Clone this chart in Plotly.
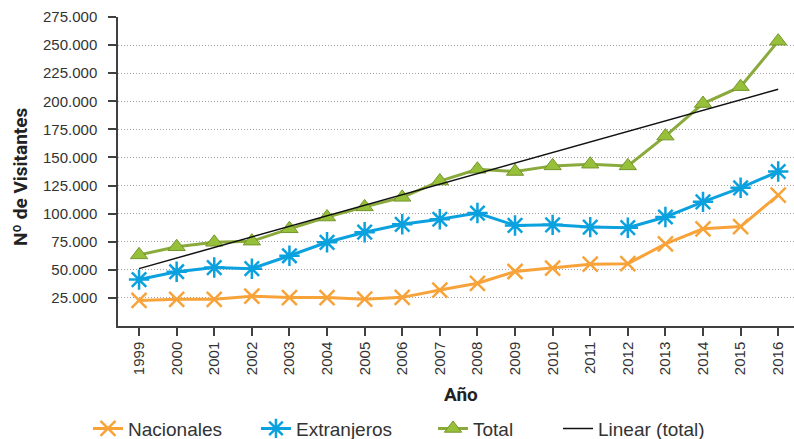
import numpy as np
import plotly.graph_objects as go

# Visitors per year
years = ["1999", "2000", "2001", "2002", "2003", "2004", "2005", "2006", "2007",
         "2008", "2009", "2010", "2011", "2012", "2013", "2014", "2015", "2016"]
nacionales = [22800, 23700, 23800, 26500, 25300, 25300, 23900, 25500, 32000,
              38000, 48500, 51500, 55000, 55500, 73000, 86500, 88500, 116500]
extranjeros = [41300, 48300, 52000, 51000, 62500, 74500, 83500, 90500, 95000,
               100500, 89500, 90000, 88000, 87500, 97000, 110500, 123000, 137500]
total = [63300, 70500, 74500, 75500, 86500, 97000, 106000, 114500, 129000,
         139500, 137500, 142500, 144000, 142500, 169000, 198000, 213000, 253500]
y_ticks = [25000, 50000, 75000, 100000, 125000, 150000, 175000, 200000,
           225000, 250000, 275000]

# least-squares linear trend of the total series
idx = np.arange(len(years))
slope, intercept = np.polyfit(idx, total, 1)
trend = (slope * idx + intercept).tolist()

ORANGE = "#F7A33A"
BLUE = "#0BA1DE"
GREEN_LINE = "#8AAA3C"
GREEN_FILL = "#96BF3A"
GREEN_EDGE = "#76962C"
AXIS = "#404040"
FONT = "Liberation Sans"
TITLE_FONT = "Roboto"

fig = go.Figure()
fig.add_trace(go.Scatter(
    x=years, y=nacionales, name="Nacionales", mode="lines+markers",
    line=dict(color=ORANGE, width=3),
    marker=dict(symbol="x-thin-open", size=15, color=ORANGE,
                line=dict(color=ORANGE, width=2.5)),
    legend="legend"))
fig.add_trace(go.Scatter(
    x=years, y=extranjeros, name="Extranjeros", mode="lines+markers",
    line=dict(color=BLUE, width=3),
    marker=dict(symbol="asterisk-open", size=17, color=BLUE,
                line=dict(color=BLUE, width=2.5)),
    legend="legend2"))
fig.add_trace(go.Scatter(
    x=years, y=total, name="Total", mode="lines+markers",
    line=dict(color=GREEN_LINE, width=3),
    marker=dict(symbol="triangle-up", size=15, color=GREEN_FILL,
                line=dict(color=GREEN_EDGE, width=1)),
    legend="legend3"))
fig.add_trace(go.Scatter(
    x=years, y=trend, name="Linear (total)", mode="lines",
    line=dict(color="#111111", width=1.5),
    legend="legend4"))

leg_common = dict(orientation="h", y=-0.332, yanchor="middle", xanchor="left",
                  bgcolor="rgba(0,0,0,0)", borderwidth=0,
                  font=dict(family=FONT, size=19, color="#333333"))

fig.update_layout(
    width=794, height=439,
    margin=dict(l=118, r=0, t=17, b=113, autoexpand=False),
    plot_bgcolor="white", paper_bgcolor="white",
    separators=",.",
    showlegend=True,
    legend=dict(x=-0.0444, **leg_common),
    legend2=dict(x=0.2041, **leg_common),
    legend3=dict(x=0.4660, **leg_common),
    legend4=dict(x=0.6509, **leg_common),
    xaxis=dict(
        type="category", range=[-0.56, 17.42],
        showline=True, linecolor=AXIS, linewidth=1.5,
        ticks="outside", ticklen=8, tickcolor=AXIS, tickwidth=1.5,
        tickangle=-90, showgrid=False, zeroline=False,
        tickfont=dict(family=FONT, size=15, color="#333333"),
    ),
    yaxis=dict(
        range=[0, 275000], tickvals=y_ticks, tickformat=",d",
        showline=True, linecolor=AXIS, linewidth=1.5,
        ticks="outside", ticklen=8, tickcolor=AXIS, tickwidth=1.5,
        showgrid=True, gridcolor="#A0A0A0", gridwidth=1, griddash="1px,2px",
        zeroline=False, ticklabelstandoff=8,
        tickfont=dict(family=FONT, size=15, color="#333333"),
    ),
    annotations=[
        dict(text="Nº de Visitantes", textangle=-90,
             xref="paper", yref="paper", x=-0.145, y=0.485,
             xanchor="center", yanchor="middle", showarrow=False,
             font=dict(family=TITLE_FONT, size=19, weight=700, color="#222222")),
        dict(text="Año",
             xref="paper", yref="paper", x=0.507, y=-0.221,
             xanchor="center", yanchor="middle", showarrow=False,
             font=dict(family=TITLE_FONT, size=19, weight=700, color="#222222")),
    ],
)

fig.write_html("out.html")
